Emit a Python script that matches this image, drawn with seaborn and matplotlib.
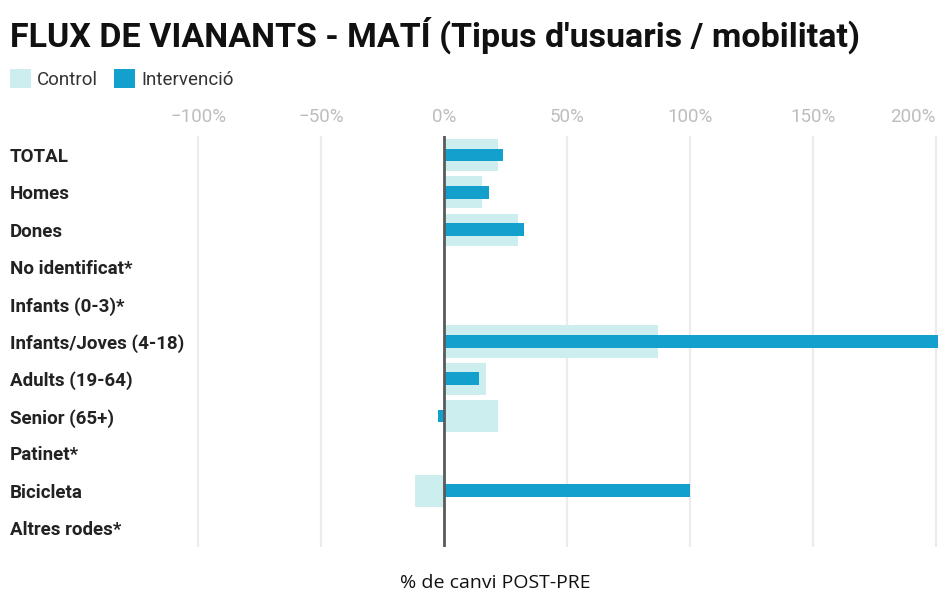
import numpy as np
import pandas as pd
import matplotlib
matplotlib.use("Agg")
import matplotlib.pyplot as plt
import seaborn as sns
from matplotlib.patches import Patch

categories = ["TOTAL", "Homes", "Dones", "No identificat*", "Infants (0-3)*",
              "Infants/Joves (4-18)", "Adults (19-64)", "Senior (65+)",
              "Patinet*", "Bicicleta", "Altres rodes*"]
control = [22, 15.5, 30, np.nan, np.nan, 87, 17, 22, np.nan, -12, np.nan]
intervencio = [24, 18, 32.5, np.nan, np.nan, 290, 14, -2.5, np.nan, 100, np.nan]
xticks = [-100, -50, 0, 50, 100, 150, 200]
xticklabels = ["\u2212100%", "\u221250%", "0%", "50%", "100%", "150%", "200%"]

title = "FLUX DE VIANANTS - MATÍ (Tipus d'usuaris / mobilitat)"
xlabel = "% de canvi POST-PRE"

c_control = "#cdeeee"
c_interv = "#14a0cc"

sns.set_theme(style="white")
plt.rcParams["font.family"] = ["Roboto", "DejaVu Sans"]

df = pd.DataFrame({"cat": categories, "Control": control, "Intervenció": intervencio})

fig = plt.figure(figsize=(9.38, 5.95), dpi=100)
ax = fig.add_axes([196 / 938, 1 - 546.6 / 595, 742.5 / 938, (546.6 - 136.4) / 595])

for x in xticks:
    if x != 0:
        ax.axvline(x, color="#ececec", lw=1.6, zorder=0)

sns.barplot(data=df, x="Control", y="cat", order=categories, orient="h",
            color=c_control, width=0.86, linewidth=0, saturation=1, ax=ax, zorder=2)
sns.barplot(data=df, x="Intervenció", y="cat", order=categories, orient="h",
            color=c_interv, width=0.34, linewidth=0, saturation=1, ax=ax, zorder=3)

ax.axvline(0, color="#5a5a5a", lw=2, zorder=4)

ax.set_xlim(-101, 201)
ax.set_ylim(10.5, -0.5)
for s in ax.spines.values():
    s.set_visible(False)

ax.xaxis.tick_top()
ax.set_xticks(xticks)
ax.set_xticklabels(xticklabels, fontsize=13.5, color="#bdbdbd")
ax.get_xticklabels()[-1].set_ha("right")
ax.tick_params(axis="x", length=0, pad=7.5)

ax.set_yticks(range(len(categories)))
ax.set_yticklabels(categories, fontsize=13.5, fontweight="bold", color="#222222", ha="left")
ax.tick_params(axis="y", length=0, pad=134)
ax.set_xlabel("")
ax.set_ylabel("")

fig.text(10 / 938, 1 - 35 / 595, title, fontsize=24.5, fontweight="bold",
         color="#111111", va="center", ha="left")

handles = [Patch(facecolor=c_control, edgecolor="none", label="Control"),
           Patch(facecolor=c_interv, edgecolor="none", label="Intervenció")]
fig.legend(handles=handles, loc="center left", bbox_to_anchor=(6 / 938, 1 - 79 / 595),
           ncol=2, frameon=False, fontsize=13.5, handlelength=1.15, handleheight=1.15,
           handletextpad=0.3, columnspacing=0.85, labelcolor="#333333",
           borderpad=0.2, borderaxespad=0)

fig.text(495 / 938, 1 - 583 / 595, xlabel, fontsize=14, family=["Open Sans", "DejaVu Sans"],
         color="#111111", ha="center", va="center")

fig.savefig("out.png", dpi=100, facecolor="white")
